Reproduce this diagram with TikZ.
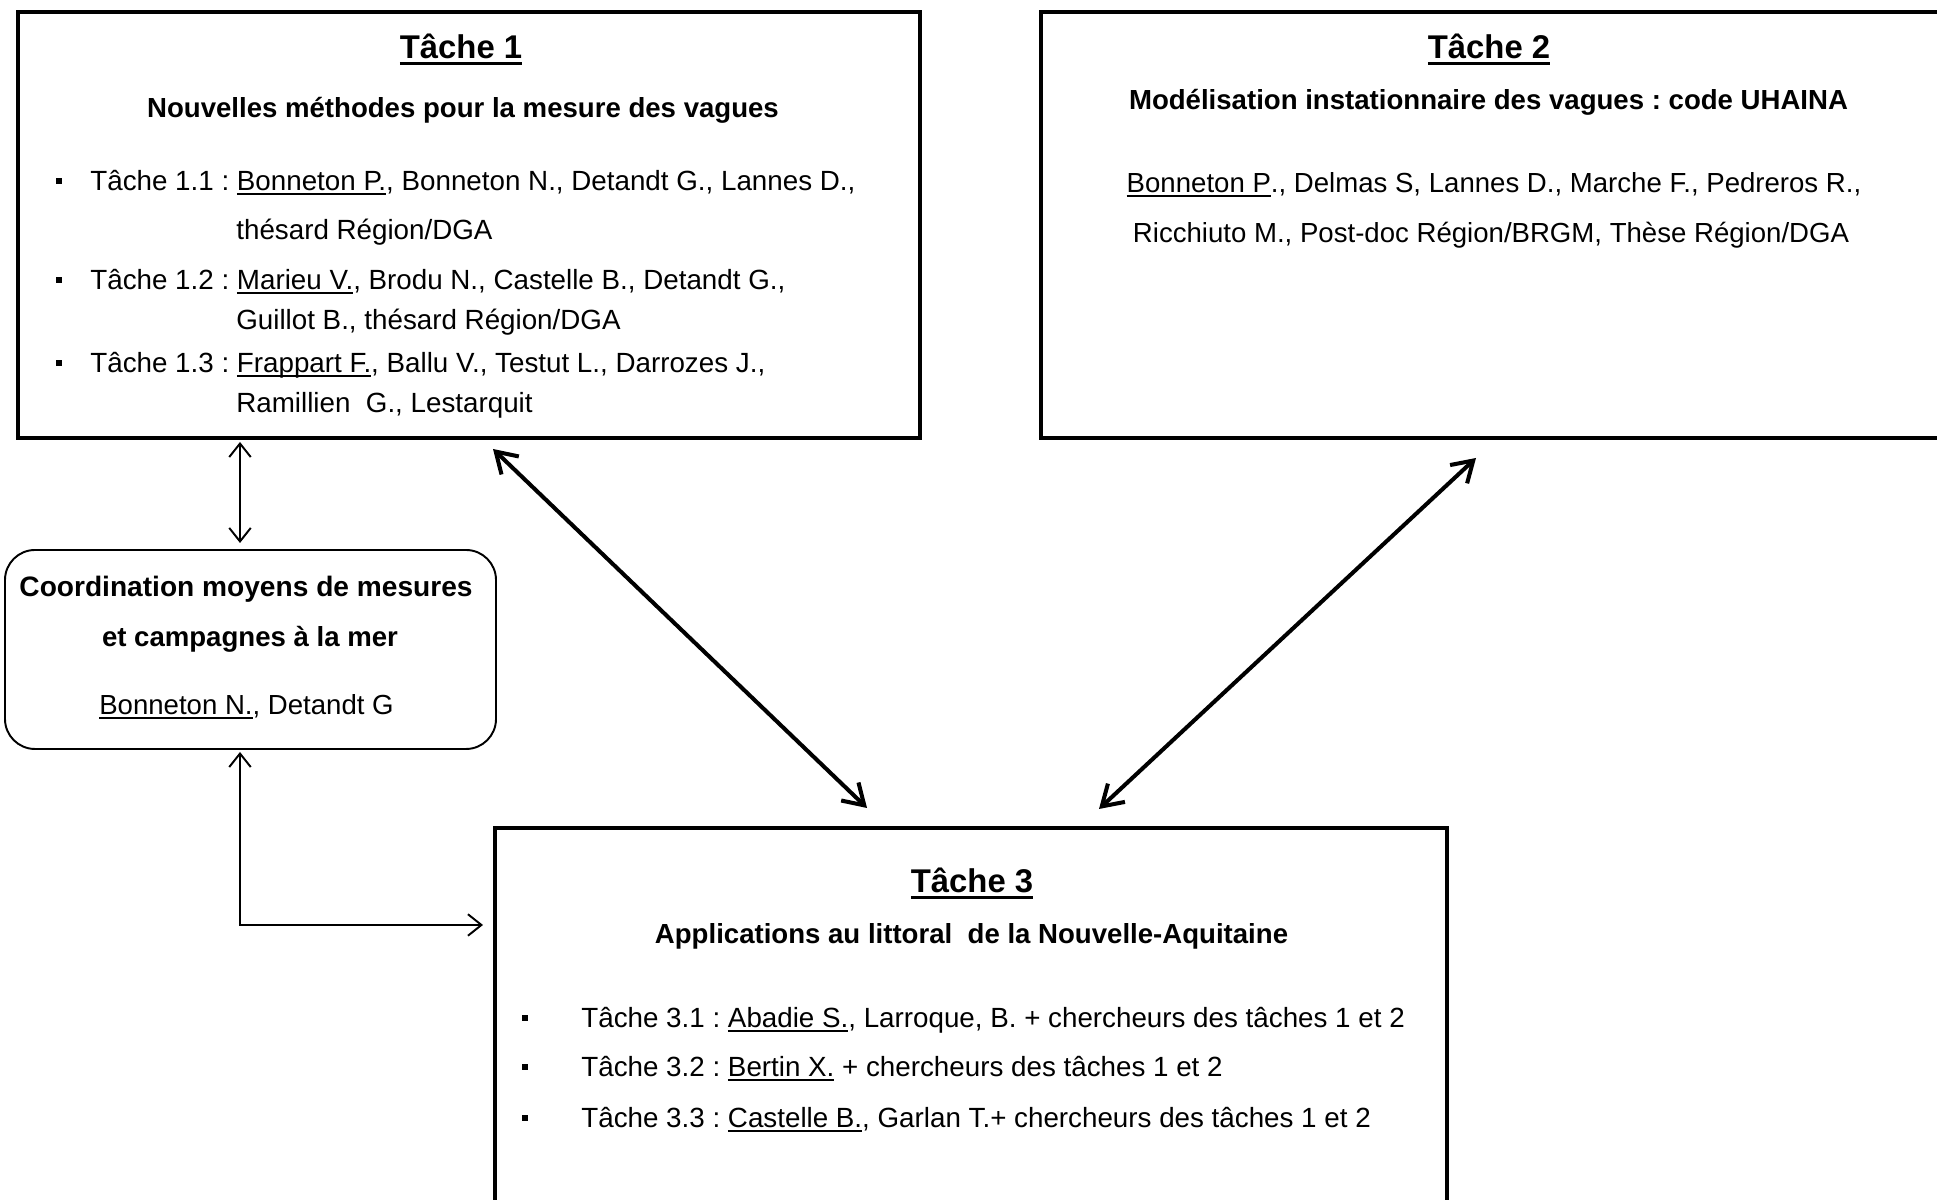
\documentclass[tikz,border=0pt]{standalone}
\usepackage{fontspec}
\setmainfont{Liberation Sans}
\usepackage{tikz}
\usetikzlibrary{arrows.meta}
\frenchspacing

\newcommand\ulname[1]{\setbox0\hbox{#1}\rlap{\rule[-0.08cm]{\wd0}{0.035cm}}\box0\relax}
\newcommand\ultitle[1]{\setbox0\hbox{#1}\rlap{\rule[-0.13cm]{\wd0}{0.06cm}}\box0\relax}
\newcommand\sqbullet{\rule[0.14cm]{0.12cm}{0.12cm}}

\tikzset{
    taskbox/.style = {draw, line width = 2.3pt, outer sep = 0pt, inner sep = 0pt},
    coordbox/.style = {draw, line width = 1.1pt, rounded corners = 0.6cm, outer sep = 0pt, inner sep = 0pt},
    heading/.style = {anchor = base, inner sep = 0pt, font = \bfseries\fontsize{18.7}{22}\selectfont},
    subheading/.style = {anchor = base, inner sep = 0pt, font = \bfseries\fontsize{15.7}{19}\selectfont},
    names/.style = {anchor = base, inner sep = 0pt, font = \fontsize{15.7}{19}\selectfont},
    itemline/.style = {anchor = base west, inner sep = 0pt, font = \fontsize{15.8}{19}\selectfont},
    thickarrow/.style = {{Straight Barb[length = 0.4cm, width = 0.5cm]}-{Straight Barb[length = 0.4cm, width = 0.5cm]}, line width = 2.3pt},
    thinarrow/.style = {{Straight Barb[length = 0.27cm, width = 0.43cm]}-{Straight Barb[length = 0.27cm, width = 0.43cm]}, line width = 1.1pt}
}

\begin{document}
\begin{tikzpicture}
        \useasboundingbox (0, 0) rectangle (38.74, 24);
        \clip (0, 0) rectangle (38.74, 24);

        \node[taskbox, minimum width = 18.04cm, minimum height = 8.52cm] (t1) at (9.38, 19.5) {};
        \node[taskbox, minimum width = 17.98cm, minimum height = 8.52cm] (t2) at (29.81, 19.5) {};
        \node[coordbox, minimum width = 9.82cm, minimum height = 3.98cm] (coord) at (5.01, 11.01) {};
        \node[taskbox, minimum width = 19.04cm, minimum height = 8.44cm] (t3) at (19.42, 3.22) {};

        \node[heading] (t1title) at (9.22, 22.82) {\ultitle{Tâche 1}};
        \node[subheading] (t1sub) at (9.26, 21.64) {Nouvelles méthodes pour la mesure des vagues};
        \node[itemline] (t11a) at (1.12, 20.18) {\sqbullet\hspace{0.56cm}Tâche 1.1 : \ulname{Bonneton P.}, Bonneton N., Detandt G., Lannes D.,};
        \node[itemline] (t11b) at (4.72, 19.2) {thésard Région/DGA};
        \node[itemline] (t12a) at (1.12, 18.2) {\sqbullet\hspace{0.56cm}Tâche 1.2 : \ulname{Marieu V.}, Brodu N., Castelle B., Detandt G.,};
        \node[itemline] (t12b) at (4.72, 17.4) {Guillot B., thésard Région/DGA};
        \node[itemline] (t13a) at (1.12, 16.54) {\sqbullet\hspace{0.56cm}Tâche 1.3 : \ulname{Frappart F.}, Ballu V., Testut L., Darrozes J.,};
        \node[itemline] (t13b) at (4.72, 15.74) {Ramillien\ \ G., Lestarquit};

        \node[heading] (t2title) at (29.78, 22.83) {\ultitle{Tâche 2}};
        \node[subheading] (t2sub) at (29.77, 21.8) {Modélisation instationnaire des vagues : code UHAINA};
        \node[names] (t2names) at (29.88, 20.14) {\ulname{Bonneton P}., Delmas S, Lannes D., Marche F., Pedreros R.,};
        \node[names] (t2more) at (29.82, 19.14) {Ricchiuto M., Post-doc Région/BRGM, Thèse Région/DGA};

        \node[subheading, font = \bfseries\fontsize{16}{19}\selectfont] (coordtitle) at (4.92, 12.07) {Coordination moyens de mesures};
        \node[subheading] (coordsub) at (5.0, 11.06) {et campagnes à la mer};
        \node[names] (coordnames) at (4.93, 9.7) {\ulname{Bonneton N.}, Detandt G};

        \node[heading] (t3title) at (19.44, 6.15) {\ultitle{Tâche 3}};
        \node[subheading] (t3sub) at (19.43, 5.12) {Applications au littoral\ \ de la Nouvelle-Aquitaine};
        \node[itemline] (t31) at (10.43, 3.44) {\sqbullet\hspace{1.07cm}Tâche 3.1 : \ulname{Abadie S.}, Larroque, B. + chercheurs des tâches 1 et 2};
        \node[itemline] (t32) at (10.43, 2.46) {\sqbullet\hspace{1.07cm}Tâche 3.2 : \ulname{Bertin X.} + chercheurs des tâches 1 et 2};
        \node[itemline] (t33) at (10.43, 1.44) {\sqbullet\hspace{1.07cm}Tâche 3.3 : \ulname{Castelle B.}, Garlan T.+ chercheurs des tâches 1 et 2};

        \draw[thinarrow] ([xshift = -0.21cm, yshift = 0.14cm]coord.north) -- ++ (0, 2.02);
        \draw[thinarrow] ([xshift = -0.21cm, yshift = -0.06cm]coord.south) |- ([xshift = -0.24cm, yshift = -1.94cm]t3.north west);
        \draw[thickarrow] ([xshift = 9.5cm, yshift = -0.22cm]t1.south west) -- ([xshift = 7.44cm, yshift = 0.4cm]t3.north west);
        \draw[thickarrow] ([xshift = 8.7cm, yshift = -0.4cm]t2.south west) -- ([xshift = -6.96cm, yshift = 0.38cm]t3.north east);
\end{tikzpicture}
\end{document}
